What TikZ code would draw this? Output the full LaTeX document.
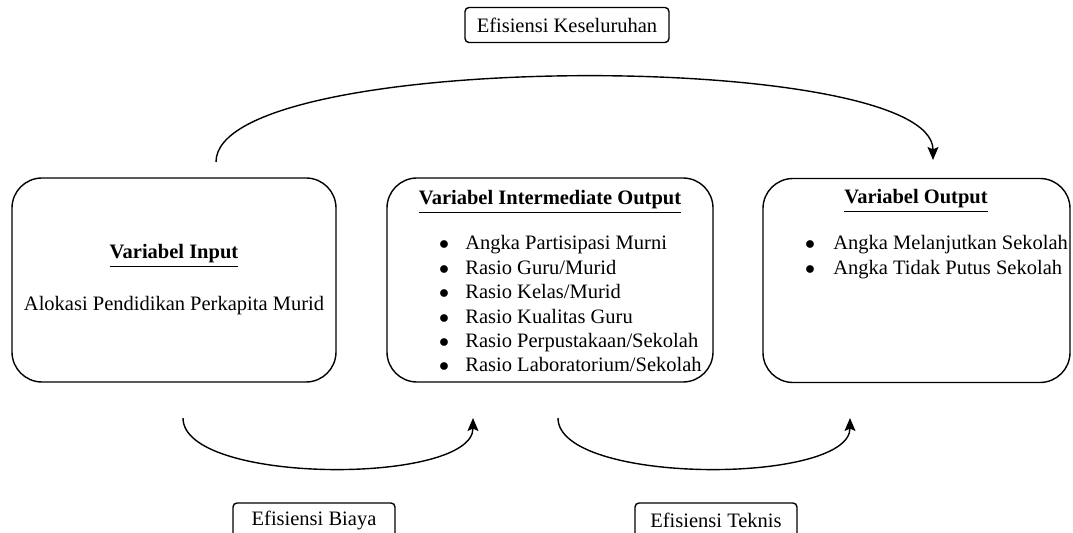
\documentclass[tikz,border=0pt]{standalone}
\usepackage{fontspec}
\setmainfont{Liberation Serif}
\usetikzlibrary{arrows.meta}

\begin{document}
\begin{tikzpicture}[x=0.5pt, y=-0.5pt, font=\fontsize{10.25}{12}\selectfont,
    varbox/.style={draw, rounded corners=15pt, line width=0.7pt, minimum height=102pt},
    effbox/.style={draw, rounded corners=2pt, line width=0.7pt, minimum height=17.5pt},
    item/.style={anchor=base west, inner sep=0pt, text height=7pt, text depth=2pt},
    dot/.style={anchor=base, inner sep=0pt, text height=7pt, text depth=2pt},
    flow/.style={-{Stealth[length=6.5pt, width=5.5pt, inset=1.2pt]}, line width=0.7pt}]
        \clip (0,0) rectangle (1073,533);

        % the three variable boxes
        \node[varbox, minimum width=162pt] (input) at (174,280) {};
        \node[varbox, minimum width=163pt] (inter) at (550,280) {};
        \node[varbox, minimum width=153.5pt] (output) at (916.5,280.5) {};

        \node (inTitle) at (174,256) {\textbf{\underline{Variabel Input}}};
        \node (inText) at (174,306) {Alokasi Pendidikan Perkapita Murid};

        \node (midTitle) at (550,202) {\textbf{\underline{Variabel Intermediate Output}}};
        \foreach \txt [count=\i] in {Angka Partisipasi Murni, Rasio Guru/Murid, Rasio Kelas/Murid,
            Rasio Kualitas Guru, Rasio Perpustakaan/Sekolah, Rasio Laboratorium/Sekolah} {
          \node[dot] (midDot\i) at (444,{250+24.4*(\i-1)}) {$\bullet$};
          \node[item] (midItem\i) at (465,{250+24.4*(\i-1)}) {\txt};
        }

        \node (outTitle) at (916,201) {\textbf{\underline{Variabel Output}}};
        \foreach \txt [count=\i] in {Angka Melanjutkan Sekolah, Angka Tidak Putus Sekolah} {
          \node[dot] (outDot\i) at (810,{250+24.4*(\i-1)}) {$\bullet$};
          \node[item] (outItem\i) at (833,{250+24.4*(\i-1)}) {\txt};
        }

        % efficiency labels
        \node[effbox, minimum width=102pt] (overall) at (567,25) {Efisiensi Keseluruhan};
        \node[effbox, minimum width=81pt] (cost) at (314,520.5) {Efisiensi Biaya};
        \node[effbox, minimum width=81pt] (tech) at (716,520.5) {Efisiensi Teknis};

        % curved arrows
        \coordinate (overallS) at (216,162);
        \coordinate (overallE) at (933,160);
        \coordinate (costS) at (183,418);
        \coordinate (costE) at (473,418);
        \coordinate (techS) at (558,418);
        \coordinate (techE) at (850,418);

        \draw[flow] (overallS) .. controls (216,49) and (933,49) .. (overallE);
        \draw[flow] (costS) .. controls (183,485) and (473,485) .. (costE);
        \draw[flow] (techS) .. controls (558,485) and (850,485) .. (techE);
      \end{tikzpicture}
\end{document}
